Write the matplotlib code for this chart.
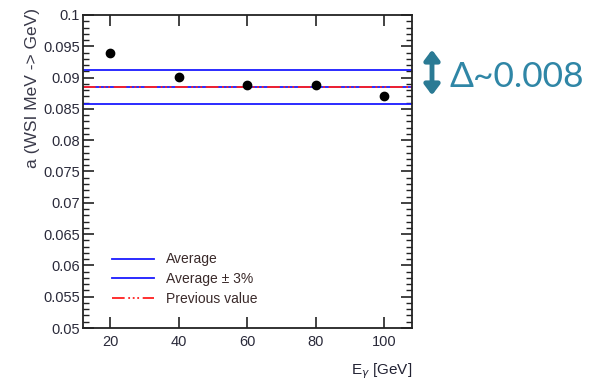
import matplotlib
matplotlib.use("Agg")
import matplotlib.pyplot as plt
from matplotlib.ticker import MultipleLocator

# Data
energy = [20, 40, 60, 80, 100]
a_values = [0.0940, 0.0901, 0.0888, 0.0888, 0.0871]
average = 0.0885
previous_value = 0.0885
band_frac = 0.03
legend_labels = ["Average", "Average \u00b1 3%", "Previous value"]
y_label = "a (WSI MeV -> GeV)"
x_label = "E$_{\\gamma}$ [GeV]"
delta_text = "\u0394~0.008"

W, H = 603, 383
fig = plt.figure(figsize=(W / 100, H / 100), dpi=100)
plt.rcParams['font.family'] = ['Liberation Sans', 'DejaVu Sans']

ax = fig.add_axes([83 / W, 1 - 328 / H, (412 - 83) / W, (328 - 15) / H])

blue = '#1a1aff'
red = '#ff2020'
l1, = ax.plot([0, 1], [average, average], transform=ax.get_yaxis_transform(),
              color=blue, lw=1.3)
l2, = ax.plot([0, 1], [average * (1 + band_frac)] * 2, transform=ax.get_yaxis_transform(),
              color=blue, lw=1.3)
ax.plot([0, 1], [average * (1 - band_frac)] * 2, transform=ax.get_yaxis_transform(),
        color=blue, lw=1.3)
l3, = ax.plot([0, 1], [previous_value] * 2, transform=ax.get_yaxis_transform(),
              color=red, lw=1.3, dashes=(7, 2, 1, 1.5, 1, 1.5, 1, 2))
ax.plot(energy, a_values, 'o', color='black', ms=6, zorder=5)

ax.set_xlim(12, 108.2)
ax.set_ylim(0.05, 0.1)
ax.xaxis.set_major_locator(MultipleLocator(20))
ax.yaxis.set_minor_locator(MultipleLocator(0.001))
ax.set_yticks([0.05 + 0.005 * i for i in range(11)])
ax.set_yticklabels(['0.05', '0.055', '0.06', '0.065', '0.07', '0.075', '0.08',
                    '0.085', '0.09', '0.095', '0.1'])
ax.tick_params(which='both', direction='in', top=True, right=True,
               labelsize=10.5, colors='#222222', labelcolor='#2a2a3a')
ax.tick_params(which='major', length=8, width=1.2)
ax.tick_params(which='minor', length=4, width=1)
ax.tick_params(axis='y', pad=2)
ax.tick_params(axis='x', pad=5)
for s in ax.spines.values():
    s.set_linewidth(1.3)
    s.set_color('#222222')

leg = ax.legend([l1, l2, l3], legend_labels, loc='lower left',
                bbox_to_anchor=(0.05, 0.03), frameon=False, fontsize=10,
                handlelength=3.0, handletextpad=0.9, labelspacing=0.42)
for t in leg.get_texts():
    t.set_color('#3a2a2a')

fig.text(33 / W, 1 - 88 / H, y_label, rotation=90, ha='center', va='center',
         fontsize=12.5, color='#3a3a4a')
fig.text(412 / W, 1 - 381 / H, x_label, ha='right', va='bottom',
         fontsize=11, color='#222233')

teal = '#2a7a94'
fig.patches.append(matplotlib.patches.FancyArrowPatch(
    (432 / W, 1 - 47 / H), (432 / W, 1 - 98 / H), transform=fig.transFigure,
    arrowstyle='<|-|>,head_length=6,head_width=4.5', color=teal, lw=3.5,
    mutation_scale=1))
fig.text(450 / W, 1 - 77 / H, delta_text, ha='left', va='center',
         fontsize=25.5, color='#2f86a6', family=['Lato', 'DejaVu Sans'])

fig.savefig('out.png', dpi=100)
